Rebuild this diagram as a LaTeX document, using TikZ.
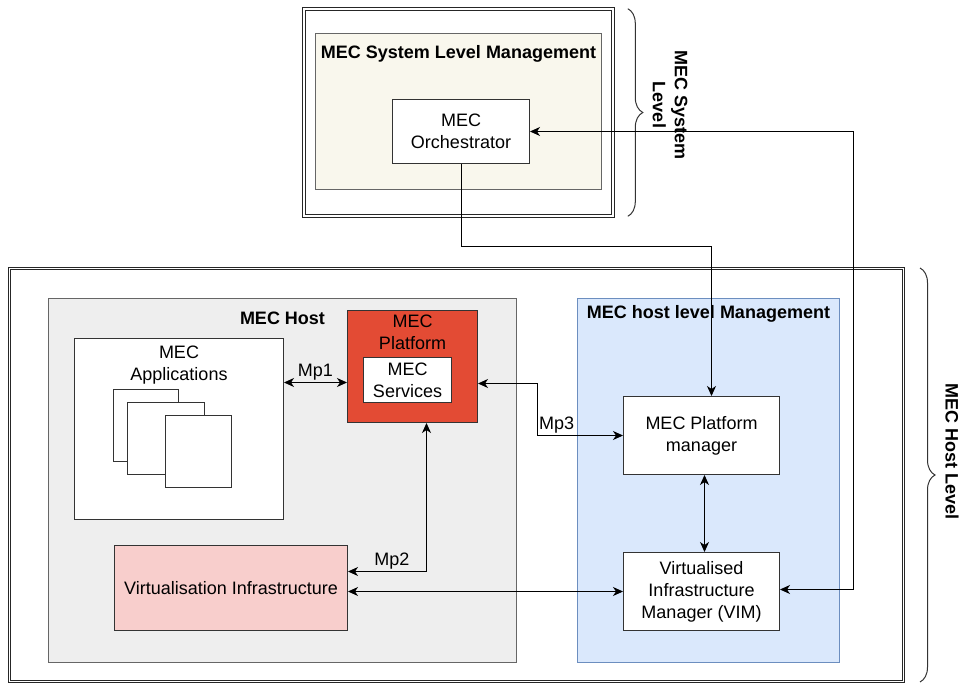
\documentclass[tikz,border=0pt]{standalone}
\usepackage{fontspec}
\setmainfont{Liberation Sans}
\usetikzlibrary{arrows.meta,decorations.pathreplacing}

\definecolor{beige}{HTML}{F9F7ED}
\definecolor{grishost}{HTML}{EEEEEE}
\definecolor{azulhost}{HTML}{DAE8FC}
\definecolor{azulborde}{HTML}{6C8EBF}
\definecolor{rojoplat}{HTML}{E34B34}
\definecolor{rosa}{HTML}{F8CECC}

\tikzset{
  estilo mec/.style={
      x=1pt, y=-1pt,
      every node/.style={font={\fontsize{18}{22}\selectfont}, align=center},
      caja/.style={draw=black!80, fill=white, line width=1pt, inner sep=0pt, anchor=north west},
      marco/.style={draw=black!85, double=white, double distance=1.6pt, line width=1pt, inner sep=0pt, anchor=north west},
      zona/.style={draw=black!60, line width=1pt, inner sep=0pt, anchor=north west},
      titulo/.style={anchor=north, inner sep=0pt, font={\fontsize{18}{22}\selectfont\bfseries}},
      texto/.style={anchor=north, inner sep=0pt},
      etiq/.style={inner sep=1.5pt},
      flecha/.style={-{Stealth[length=10pt,width=9pt,inset=3pt]}, line width=1pt},
      doble/.style={{Stealth[length=10pt,width=9pt,inset=3pt]}-{Stealth[length=10pt,width=9pt,inset=3pt]}, line width=1pt},
      llave/.style={decorate, decoration={brace, amplitude=15pt}, line width=1pt, draw=black!80},
    },
}

\begin{document}
\begin{tikzpicture}[estilo mec]
    \useasboundingbox (0,0) rectangle (965,684);

    \node[marco, minimum width=308.6pt, minimum height=206.6pt] (sistema) at (303.7,8.7) {};
    \node[zona, fill=beige, minimum width=286pt, minimum height=156pt,
      label={[titulo, yshift=-12.5pt]north:MEC System Level Management}] (gestsis) at (315,33) {};
    \node[caja, minimum width=137pt, minimum height=64pt] (orq) at (392,99) {MEC\\Orchestrator};

    \node[marco, minimum width=894pt, minimum height=413pt] (host) at (9,268) {};
    \node[zona, fill=grishost, minimum width=468pt, minimum height=364pt,
      label={[titulo, yshift=-13.5pt]north:MEC Host}] (mechost) at (48,298) {};
    \node[zona, draw=azulborde, fill=azulhost, minimum width=262pt, minimum height=364pt,
      label={[titulo, yshift=-7.5pt]north:MEC host level Management}] (gesthost) at (577,298) {};

    \node[caja, minimum width=209pt, minimum height=181pt,
      label={[texto, yshift=-8pt]north:{MEC\\Applications}}] (apps) at (74,338) {};
    \node[caja, minimum width=65pt, minimum height=72pt] (pag1) at (113,389) {};
    \node[caja, minimum width=77pt, minimum height=72pt] (pag2) at (127,402) {};
    \node[caja, minimum width=66pt, minimum height=72pt] (pag3) at (165,415) {};

    \node[caja, fill=rojoplat, minimum width=130pt, minimum height=112pt,
      label={[texto, yshift=-5pt]north:{MEC\\Platform}}] (plat) at (347,310) {};
    \node[caja, minimum width=88pt, minimum height=45pt] (serv) at (363,357) {MEC\\Services};
    \node[caja, fill=rosa, minimum width=233pt, minimum height=85pt] (virt) at (114,545) {Virtualisation Infrastructure};

    \node[caja, minimum width=156pt, minimum height=78pt] (mpm) at (623,396) {MEC Platform\\manager};
    \node[caja, minimum width=156pt, minimum height=78pt] (vim) at (623,552) {Virtualised\\Infrastructure\\Manager (VIM)};

    \node[titulo, anchor=center, rotate=-90] (nivsis) at (670,105) {MEC System\\Level};
    \node[titulo, anchor=center, rotate=-90] (nivhost) at (952,452) {MEC Host Level};

    \draw[llave] ([xshift=14.5pt]sistema.north east) -- ([xshift=14.5pt]sistema.south east);
    \draw[llave] ([xshift=16pt]host.north east) -- ([xshift=16pt]host.south east);

    \coordinate (mp1fin) at ([yshift=-16pt]plat.west);
    \coordinate (codo) at (0,247);
    \coordinate (vuelta) at (853,0);

    \draw[doble] (apps.east |- mp1fin) -- node[etiq, above] {Mp1} (mp1fin);
    \draw[doble] ([xshift=14pt]plat.south) |- node[etiq, above, pos=0.72] {Mp2} ([yshift=16.5pt]virt.east);
    \draw[doble] ([yshift=-17pt]plat.east) -- ++(59,0) |- node[etiq, pos=0.5, anchor=south west] {Mp3} (mpm.west);
    \draw[doble] (virt.east |- vim.west) -- (vim.west);
    \draw[doble] ([xshift=3pt]mpm.south) -- ([xshift=3pt]vim.north);
    \draw[flecha] (orq.south) |- ([xshift=10pt]mpm.north |- codo) -- ([xshift=10pt]mpm.north);
    \draw[doble] (orq.east) -- (orq.east -| vuelta) |- ([yshift=2pt]vim.east);
  \end{tikzpicture}
\end{document}
